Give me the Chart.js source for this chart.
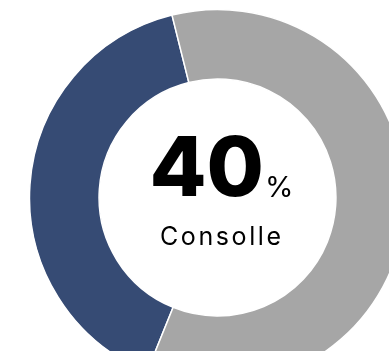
<!DOCTYPE html>
<html>
<head>
<meta charset="utf-8">
<script src="https://cdn.jsdelivr.net/npm/chart.js@4/dist/chart.umd.min.js"></script>
<style>
  html, body { margin: 0; padding: 0; background: #ffffff; overflow: hidden; }
  #wrap { width: 389px; height: 351px; position: relative; }
</style>
</head>
<body>
<div id="wrap"><canvas id="chart" width="389" height="351"></canvas></div>
<script>
// Share of consoles vs. the rest
const categories = ['Consolle', 'Altro'];
const shares = [40, 60];
const sliceColors = ['#364b74', '#a6a6a6'];
const headline = '40';
const headlineUnit = '%';
const caption = 'Consolle';

// Big number with unit and caption in the doughnut hole
const centerText = {
  id: 'centerText',
  afterDraw(chart) {
    const arc = chart.getDatasetMeta(0).data[0];
    const cx = arc.x + 4;
    const cy = arc.y;
    const ctx = chart.ctx;
    ctx.save();
    ctx.fillStyle = '#000000';
    ctx.textBaseline = 'alphabetic';

    const bigFont = '800 83px Inter';
    const unitFont = '400 29px Inter';
    ctx.font = bigFont;
    const wBig = ctx.measureText(headline).width;
    ctx.font = unitFont;
    const wUnit = ctx.measureText(headlineUnit).width;
    const gap = 1;
    const start = cx - (wBig + gap + wUnit) / 2;
    ctx.textAlign = 'left';
    ctx.font = bigFont;
    ctx.fillText(headline, start, cy - 2);
    ctx.font = unitFont;
    ctx.fillText(headlineUnit, start + wBig + gap, cy - 1);

    const spacing = 2.6;
    ctx.font = '400 25px Inter';
    ctx.letterSpacing = spacing + 'px';
    ctx.textAlign = 'center';
    ctx.fillText(caption, cx - 1 + spacing / 2, cy + 47);
    ctx.restore();
  }
};

new Chart(document.getElementById('chart'), {
  type: 'doughnut',
  data: {
    labels: categories,
    datasets: [{
      data: shares,
      backgroundColor: sliceColors,
      borderColor: '#ffffff',
      borderWidth: 1.5,
      hoverOffset: 0
    }]
  },
  options: {
    responsive: false,
    animation: false,
    rotation: 202,
    radius: 188,
    cutout: '63%',
    layout: { padding: { left: 46, right: 0, top: 44, bottom: 0 } },
    plugins: {
      legend: { display: false },
      tooltip: { enabled: false }
    }
  },
  plugins: [centerText]
});
</script>
</body>
</html>
